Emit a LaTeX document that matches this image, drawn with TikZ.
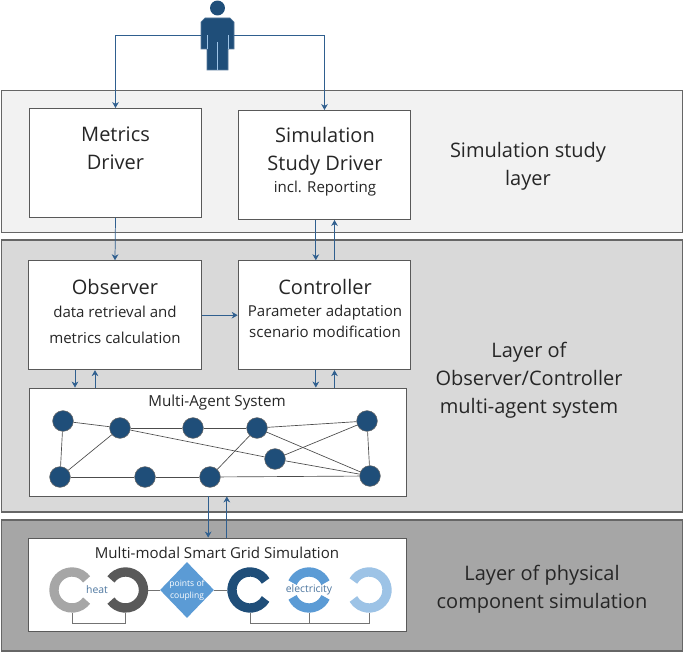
\documentclass[tikz,border=0pt]{standalone}
\usepackage{fontspec}
\setmainfont{Open Sans}
\usetikzlibrary{shapes.geometric,arrows.meta}
\definecolor{darkblue}{HTML}{1F4E79}
\definecolor{midblue}{HTML}{5B9BD5}
\definecolor{paleblue}{HTML}{9DC3E6}
\definecolor{flowblue}{HTML}{2F5F8F}
\definecolor{textgray}{HTML}{262626}
\tikzset{
  layerbox/.style={draw=black!60,line width=0.8pt,inner sep=0pt},
  whitebox/.style={draw=black!65,line width=0.7pt,fill=white,inner sep=0pt},
  bigtext/.style={text=textgray,align=center,font=\fontsize{15}{21}\selectfont},
  smalltext/.style={text=textgray,align=center,font=\fontsize{11.3}{19.5}\selectfont},
  flow/.style={draw=flowblue,line width=0.55pt,-{Stealth[length=4.5pt,width=5pt]}},
  agent/.style={circle,draw=black!60,line width=0.4pt,fill=darkblue,minimum size=15.5pt,inner sep=0pt},
  agentlink/.style={draw=black!70,line width=0.5pt},
  ringspot/.style={circle,minimum size=34pt,inner sep=0pt},
  ringarc/.style={line width=7pt},
  gridlink/.style={draw=black!55,line width=0.7pt},
  energy/.style={text=flowblue!85!white,font=\fontsize{7.8}{10}\selectfont},
}
\begin{document}
\begin{tikzpicture}[x=0.75pt,y=-0.75pt]
	\useasboundingbox (0,0) rectangle (685,652);

	% the three layers
	\node[layerbox,fill=black!5,minimum width=510.75pt,minimum height=106pt] (studylayer) at (342,161.5) {};
	\node[layerbox,fill=black!15,minimum width=510.75pt,minimum height=204pt] (oclayer) at (342,376) {};
	\node[layerbox,fill=black!35,minimum width=510.75pt,minimum height=98.25pt] (physlayer) at (342,585.5) {};

	% person on top
	\fill[darkblue] (217.5,8) circle (5.6pt);
	\draw[darkblue!75!white,fill=darkblue,line width=0.4pt] (201,49) -- (201,22) -- (205,18) -- (230,18) -- (234,22) -- (234,49) -- (228,49) -- (228,70) -- (207,70) -- (207,49) -- cycle;
	\draw[paleblue,line width=0.4pt] (207,35) -- (207,49);
	\draw[paleblue,line width=0.4pt] (228,35) -- (228,49);
	\draw[paleblue,line width=0.4pt] (217.5,42) -- (217.5,70);
	\coordinate (personleft) at (201,35);
	\coordinate (personright) at (234,35);

	% boxes
	\node[whitebox,minimum width=129.5pt,minimum height=81.75pt] (metrics) at (115.5,163) {};
	\node[whitebox,minimum width=129.5pt,minimum height=81.75pt] (simulation) at (324.5,165) {};
	\node[whitebox,minimum width=129.5pt,minimum height=81.75pt] (observer) at (115,315.2) {};
	\node[whitebox,minimum width=129.5pt,minimum height=81.75pt] (controller) at (324.5,315.2) {};
	\node[whitebox,minimum width=282.75pt,minimum height=81pt] (mas) at (217.5,442) {};
	\node[whitebox,minimum width=283.5pt,minimum height=69.75pt] (smartgrid) at (217,584.5) {};

	% texts of the boxes
	\node[bigtext] (metricstext) at (115.5,148) {Metrics\\Driver};
	\node[bigtext] (simulationtext) at (325,151) {Simulation\\Study Driver};
	\node[smalltext] (reporttext) at (325,189) {incl. Reporting};
	\node[bigtext] (observertext) at (115,287) {Observer};
	\node[smalltext] (observerdetail) at (115,324.5) {data retrieval and\\metrics calculation};
	\node[bigtext] (controllertext) at (325,287) {Controller};
	\node[smalltext,font=\fontsize{11.3}{15.75}\selectfont] (controllerdetail) at (325,321.5) {Parameter adaptation\\scenario modification};
	\node[text=textgray,font=\fontsize{11.4}{13}\selectfont] (mastext) at (217,402.5) {Multi-Agent System};
	\node[text=textgray,font=\fontsize{11.3}{13}\selectfont] (gridtext) at (217,552.5) {Multi-modal Smart Grid Simulation};

	% texts of the layers
	\node[bigtext] (studytext) at (528,166) {Simulation study\\layer};
	\node[bigtext] (octext) at (529,380) {Layer of\\Observer/Controller\\multi-agent system};
	\node[bigtext] (physicaltext) at (542,589.5) {Layer of physical\\component simulation};

	% arrows between boxes
	\draw[flow] (personleft) -| (metrics.north);
	\draw[flow] (personright) -| (simulation.north);
	\draw[flow] (metrics.south) -- (observer.north);
	\draw[flow] ([xshift=-6.5pt]simulation.south) -- ([xshift=-6.5pt]controller.north);
	\draw[flow] ([xshift=7.5pt]controller.north) -- ([xshift=7.5pt]simulation.south);
	\draw[flow] (observer.east) -- (controller.west);
	\draw[flow] ([xshift=-30pt]observer.south) -- ([xshift=-30pt]observer.south |- mas.north);
	\draw[flow] ([xshift=-15pt]observer.south |- mas.north) -- ([xshift=-15pt]observer.south);
	\draw[flow] ([xshift=-6.5pt]controller.south) -- ([xshift=-6.5pt]controller.south |- mas.north);
	\draw[flow] ([xshift=7.5pt]controller.south |- mas.north) -- ([xshift=7.5pt]controller.south);
	\draw[flow] ([xshift=-7pt]mas.south) -- ([xshift=-7pt]mas.south |- smartgrid.north);
	\draw[flow] ([xshift=7pt]mas.south |- smartgrid.north) -- ([xshift=7pt]mas.south);

	% agents
	\node[agent] (agenta) at (63,421) {};
	\node[agent] (agentb) at (120,428) {};
	\node[agent] (agentc) at (193,428) {};
	\node[agent] (agentd) at (257,428) {};
	\node[agent] (agente) at (367,421) {};
	\node[agent] (agentf) at (275,459) {};
	\node[agent] (agentg) at (60,477) {};
	\node[agent] (agenth) at (145,477) {};
	\node[agent] (agenti) at (210,477) {};
	\node[agent] (agentj) at (370,476) {};
	\draw[agentlink] (agenta) -- (agentb);
	\draw[agentlink] (agentb) -- (agentc);
	\draw[agentlink] (agentc) -- (agentd);
	\draw[agentlink] (agentd) -- (agente);
	\draw[agentlink] (agenta) -- (agentg);
	\draw[agentlink] (agentb) -- (agentg);
	\draw[agentlink] (agentg) -- (agenth);
	\draw[agentlink] (agenth) -- (agenti);
	\draw[agentlink] (agenti) -- (agentd);
	\draw[agentlink] (agenti) -- (agentj);
	\draw[agentlink] (agentb) -- (agentf);
	\draw[agentlink] (agentf) -- (agentj);
	\draw[agentlink] (agentf) -- (agente);
	\draw[agentlink] (agentd) -- (agentj);
	\draw[agentlink] (agente) -- (agentj);

	% energy carriers
	\node[ringspot] (ringa) at (72,590) {};
	\node[ringspot] (ringb) at (125.5,590) {};
	\node[diamond,fill=midblue,minimum width=40.5pt,minimum height=42pt,inner sep=0pt] (coupling) at (187,590) {};
	\node[ringspot] (ringc) at (250,590) {};
	\node[ringspot] (ringd) at (309,590) {};
	\node[ringspot] (ringe) at (369,590) {};
	\draw[gridlink] (ringa.south) -- ++(0,11) -| (ringb.south);
	\draw[gridlink] (ringc.south) -- ++(0,11) -| (ringe.south);
	\draw[gridlink] (ringd.south) -- ++(0,11);
	\draw[gridlink] (ringb.east) -- (coupling.west);
	\draw[gridlink] (coupling.east) -- (ringc.west);
	\draw[ringarc,draw=black!35,shift={(ringa)}] (36:13.5pt) arc (36:324:13.5pt);
	\draw[ringarc,draw=black!65,shift={(ringb)}] (144:13.5pt) arc (144:-144:13.5pt);
	\draw[ringarc,draw=darkblue,shift={(ringc)}] (30:13.5pt) arc (30:330:13.5pt);
	\draw[ringarc,draw=midblue,shift={(ringd)}] (24:13.5pt) arc (24:156:13.5pt);
	\draw[ringarc,draw=midblue,shift={(ringd)}] (204:13.5pt) arc (204:336:13.5pt);
	\draw[ringarc,draw=paleblue,shift={(ringe)}] (150:13.5pt) arc (150:-150:13.5pt);
	\node[energy] (heattext) at (97,590) {heat};
	\node[energy] (electricitytext) at (309,590) {electricity};
	\node[text=white,align=center,font=\fontsize{6.4}{9}\selectfont] (couplingtext) at (187,590) {points of\\coupling};
\end{tikzpicture}
\end{document}
